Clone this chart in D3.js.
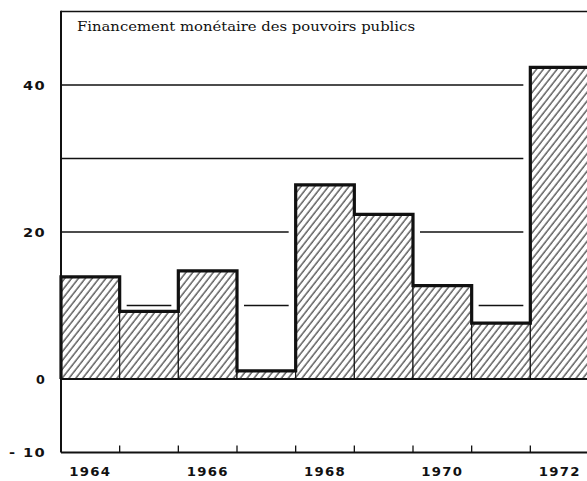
<!DOCTYPE html>
<html>
<head>
<meta charset="utf-8">
<script src="https://cdn.jsdelivr.net/npm/d3@7"></script>
<style>
  html, body { margin: 0; padding: 0; background: #fff; }
  svg { display: block; }
</style>
</head>
<body>
<svg id="chart" width="587" height="481"></svg>
<script>
// Financement monétaire des pouvoirs publics, 1964–1972
const years = [1964, 1965, 1966, 1967, 1968, 1969, 1970, 1971, 1972];
const values = [13.9, 9.2, 14.7, 1.1, 26.4, 22.4, 12.7, 7.6, 42.4];
const yTickLabels = [-10, 0, 20, 40];
const gridLevels = [10, 20, 30, 40];
const xTickLabels = [1964, 1966, 1968, 1970, 1972];
const title = "Financement monétaire des pouvoirs publics";

const svg = d3.select("#chart");
const ink = "#111";

const plotLeft = 61, plotTop = 11.5, plotBottom = 452.5, plotRight = 589;

const x = d3.scaleBand().domain(years).range([plotLeft, plotRight]).paddingInner(0).paddingOuter(0);
const y = d3.scaleLinear().domain([-10, 50]).range([plotBottom, plotTop]);
const bw = x.bandwidth();

// diagonal hatching
const defs = svg.append("defs");
const hatchGap = 5.4;
const pat = defs.append("pattern")
  .attr("id", "hatch")
  .attr("patternUnits", "userSpaceOnUse")
  .attr("width", hatchGap).attr("height", 10)
  .attr("patternTransform", "rotate(38)");
pat.append("rect").attr("width", hatchGap).attr("height", 10).attr("fill", "#fff");
pat.append("line")
  .attr("x1", 1).attr("y1", 0).attr("x2", 1).attr("y2", 10)
  .attr("stroke", ink).attr("stroke-width", 1);

// horizontal grid segments, only in the open space above the bars
const inset = 7;
const grid = svg.append("g");
gridLevels.forEach(level => {
  let i = 0;
  while (i < years.length) {
    if (values[i] < level) {
      let j = i;
      while (j + 1 < years.length && values[j + 1] < level) j++;
      const x0 = i === 0 ? plotLeft : x(years[i]) + inset;
      const x1 = x(years[j]) + bw - inset;
      grid.append("line")
        .attr("x1", x0).attr("x2", x1)
        .attr("y1", y(level)).attr("y2", y(level))
        .attr("stroke", ink).attr("stroke-width", 1.4);
      i = j + 1;
    } else {
      i++;
    }
  }
});

// hatched bars with thin separators
svg.append("g").selectAll("rect")
  .data(years)
  .join("rect")
  .attr("x", d => x(d))
  .attr("y", (d, i) => y(values[i]))
  .attr("width", bw)
  .attr("height", (d, i) => y(0) - y(values[i]))
  .attr("fill", "url(#hatch)")
  .attr("stroke", ink)
  .attr("stroke-width", 1.1);

// heavy stepped outline along the bar tops
const stepPts = [[plotLeft, y(0)]];
years.forEach((d, i) => stepPts.push([x(d), y(values[i])]));
stepPts.push([x(years[years.length - 1]) + bw, y(values[values.length - 1])]);
svg.append("path")
  .attr("d", d3.line().curve(d3.curveStepAfter)(stepPts))
  .attr("fill", "none")
  .attr("stroke", ink)
  .attr("stroke-width", 3.2)
  .attr("stroke-linejoin", "miter");

// zero line
svg.append("line")
  .attr("x1", plotLeft).attr("x2", 587)
  .attr("y1", y(0)).attr("y2", y(0))
  .attr("stroke", ink).attr("stroke-width", 2.2);

// top frame line
svg.append("line")
  .attr("x1", plotLeft).attr("x2", 587)
  .attr("y1", plotTop).attr("y2", plotTop)
  .attr("stroke", ink).attr("stroke-width", 1.6);

// left axis line
svg.append("line")
  .attr("x1", plotLeft).attr("x2", plotLeft)
  .attr("y1", plotTop - 0.8).attr("y2", plotBottom)
  .attr("stroke", ink).attr("stroke-width", 2);

// bottom axis with ticks at year boundaries
const xAxis = d3.axisBottom(x)
  .tickValues(years.slice(1))
  .tickSizeInner(-7)
  .tickSizeOuter(0)
  .tickFormat("");
const gx = svg.append("g")
  .attr("transform", `translate(0,${plotBottom})`)
  .call(xAxis);
gx.select(".domain").attr("d", `M${plotLeft},0H587`).attr("stroke", ink).attr("stroke-width", 2);
gx.selectAll(".tick")
  .attr("transform", d => `translate(${x(d)},0)`);
gx.selectAll(".tick line").attr("stroke", ink).attr("stroke-width", 1.3);

// year labels centred under alternate bars
svg.append("g").selectAll("text")
  .data(xTickLabels)
  .join("text")
  .attr("x", d => x(d) + bw / 2 - 21)
  .attr("y", 475.5)
  .attr("textLength", 42)
  .attr("lengthAdjust", "spacingAndGlyphs")
  .attr("font-family", "DejaVu Sans")
  .attr("font-weight", "bold")
  .attr("font-size", 12.5)
  .attr("letter-spacing", 1.2)
  .attr("fill", ink)
  .text(d => d);

// value labels on the left
const yFmt = d => d < 0 ? "- " + Math.abs(d) : String(d);
svg.append("g").selectAll("text")
  .data(yTickLabels)
  .join("text")
  .attr("x", 46)
  .attr("y", d => y(d) + 4.8)
  .attr("text-anchor", "end")
  .attr("font-family", "DejaVu Sans")
  .attr("font-weight", "bold")
  .attr("font-size", 13)
  .attr("letter-spacing", 1.2)
  .attr("fill", ink)
  .style("white-space", "pre")
  .attr("textLength", d => d < 0 ? 37 : (String(d).length === 1 ? 10 : 23))
  .attr("lengthAdjust", "spacingAndGlyphs")
  .text(yFmt);

// chart title
svg.append("text")
  .attr("x", 77)
  .attr("y", 31)
  .attr("font-family", "DejaVu Serif")
  .attr("font-size", 13.5)
  .attr("textLength", 338)
  .attr("lengthAdjust", "spacingAndGlyphs")
  .attr("fill", ink)
  .text(title);
</script>
</body>
</html>
